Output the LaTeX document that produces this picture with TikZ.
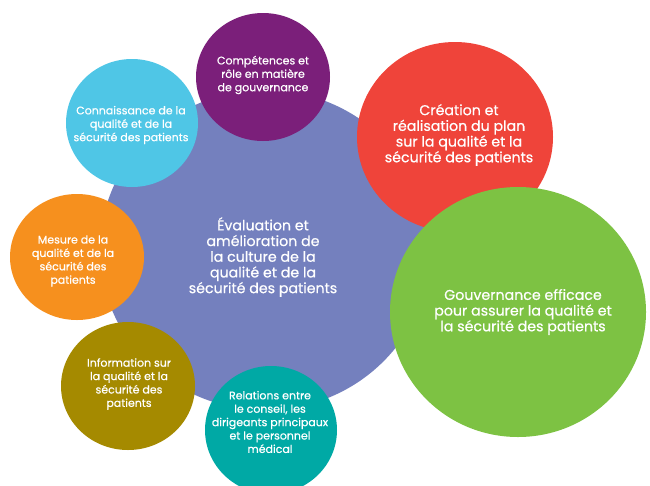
\documentclass[tikz,border=0pt]{standalone}
\usepackage{fontspec}
\setmainfont{Poppins}[FakeBold=0.6]
\usetikzlibrary{shapes.geometric}
\definecolor{cbig}{HTML}{7480BE}
\definecolor{ccomp}{HTML}{7B1F7A}
\definecolor{cconn}{HTML}{4FC6E6}
\definecolor{cred}{HTML}{EF443A}
\definecolor{cgreen}{HTML}{7DC243}
\definecolor{corange}{HTML}{F6901E}
\definecolor{colive}{HTML}{A58A00}
\definecolor{cteal}{HTML}{00A9A5}
\tikzset{
  bub/.style={ellipse, inner sep=0pt, draw=none},
  bigtxt/.style={text=white, align=center, inner sep=0pt, font=\fontsize{14.2}{15.7}\selectfont},
  smalltxt/.style={text=white, align=center, inner sep=0pt, font=\fontsize{11}{13.4}\selectfont},
}
\begin{document}
\begin{tikzpicture}[x=1pt,y=-1pt]
\useasboundingbox (0,0) rectangle (650,485);
\begin{scope}
\clip (0,0) rectangle (650,485);
\node[bub, fill=cbig, minimum width=330pt, minimum height=320pt] (big) at (265,250) {};
\node[bub, fill=cred, minimum width=196pt, minimum height=190pt] (red) at (455,137) {};
\node[bub, fill=cgreen, minimum width=256pt, minimum height=250pt] (green) at (518,312) {};
\node[bub, fill=ccomp, minimum width=134pt, minimum height=128pt] (comp) at (263,77) {};
\node[bub, fill=cconn, minimum width=132pt, minimum height=128pt] (conn) at (132,123) {};
\node[bub, fill=corange, minimum width=134pt, minimum height=126pt] (orange) at (77,257) {};
\node[bub, fill=colive, minimum width=134pt, minimum height=128pt] (olive) at (128,386) {};
\node[bub, fill=cteal, minimum width=132pt, minimum height=128pt] (teal) at (271,430) {};
\end{scope}
\node[bigtxt] (bigt) at (263,257) {Évaluation et\\amélioration de\\la culture de la\\qualité et de la\\sécurité des patients};
\node[bigtxt] (redt) at (459,135) {Création et\\réalisation du plan\\sur la qualité et la\\sécurité des patients};
\node[bigtxt] (greent) at (523,312) {Gouvernance efficace\\pour assurer la qualité et\\la sécurité des patients};
\node[smalltxt] (compt) at (263,75) {Compétences et\\rôle en matière\\de gouvernance};
\node[smalltxt] (connt) at (131,125) {Connaissance de la\\qualité et de la\\sécurité des patients};
\node[smalltxt] (oranget) at (73,261) {Mesure de la\\qualité et de la\\sécurité des\\patients};
\node[smalltxt] (olivet) at (129,384) {Information sur\\la qualité et la\\sécurité des\\patients};
\node[smalltxt] (tealt) at (270,422) {Relations entre\\le conseil, les\\dirigeants principaux\\et le personnel\\médical};
\end{tikzpicture}
\end{document}
